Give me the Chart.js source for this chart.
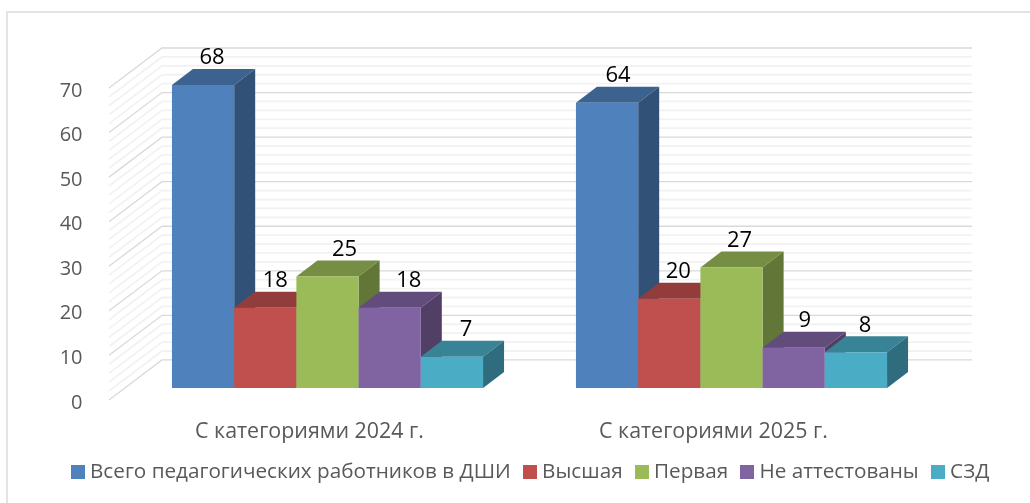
<!DOCTYPE html>
<html>
<head>
<meta charset="utf-8">
<script src="https://cdn.jsdelivr.net/npm/chart.js@4"></script>
<style>
  html, body { margin: 0; background: #fff; overflow: hidden; }
  #wrap { position: absolute; left: 6px; top: 11px; width: 1030px; height: 500px; border: 2px solid #e3e3e3; }
  canvas { position: absolute; left: 0; top: 0; }
</style>
</head>
<body>
<div id="wrap"></div>
<canvas id="chart" width="1030" height="503"></canvas>
<script>
const categories = ['С категориями 2024 г.', 'С категориями 2025 г.'];
const seriesNames = ['Всего педагогических работников в ДШИ', 'Высшая', 'Первая', 'Не аттестованы', 'СЗД'];
const total = [68, 64];
const highest = [18, 20];
const first = [25, 27];
const notCertified = [18, 9];
const szd = [7, 8];
const colors = ['#4f81bd', '#c0504d', '#9bbb59', '#8064a2', '#4bacc6'];

const FONT = '"Open Sans", sans-serif';

// labels were dragged by hand in the original, so they are not all centred
const labelShift = [[9, 11], [10, 9], [17, 8], [19, 11], [14, 9]];

const shade = (hex, k) => {
  const n = parseInt(hex.slice(1), 16);
  return `rgb(${Math.round((n >> 16) * k)}, ${Math.round(((n >> 8) & 255) * k)}, ${Math.round((n & 255) * k)})`;
};

const poly = (ctx, pts, fill) => {
  ctx.beginPath();
  pts.forEach((p, i) => (i ? ctx.lineTo(p[0], p[1]) : ctx.moveTo(p[0], p[1])));
  ctx.closePath();
  ctx.fillStyle = fill;
  ctx.fill();
};

// Legend square as an image: keeps the gap to the text narrow
const swatch = (color) => {
  const c = document.createElement('canvas');
  c.width = 14;
  c.height = 14;
  const g = c.getContext('2d');
  g.fillStyle = color;
  g.fillRect(0, 0, 14, 14);
  return c;
};

// Fake 3D: walls behind the bars, then top and side faces for every bar
const depth3d = {
  id: 'depth3d',
  beforeDatasetsDraw(chart) {
    const { ctx, scales: { y } } = chart;
    ctx.save();
    for (let v = 70; v >= 0; v -= 2) {
      const py = y.getPixelForValue(v);
      ctx.strokeStyle = v % 10 === 0 ? '#d9d9d9' : '#f2f2f2';
      ctx.lineWidth = v % 10 === 0 ? 1.3 : 1.8;
      ctx.beginPath();
      ctx.moveTo(109, py + 12);
      ctx.lineTo(162, py - 28);
      ctx.lineTo(972, py - 28);
      ctx.stroke();
    }
    ctx.restore();
  },
  beforeDatasetDraw() {
    return false; // bars get painted in order below
  },
  afterDatasetsDraw(chart) {
    const { ctx } = chart;
    const dx = 21;
    const dy = 16;
    for (let c = 0; c < categories.length; c++) {
      chart.data.datasets.forEach((ds, i) => {
        const bar = chart.getDatasetMeta(i).data[c];
        const l = bar.x - bar.width / 2;
        const r = bar.x + bar.width / 2;
        poly(ctx, [[l, bar.y], [l + dx, bar.y - dy], [r + dx, bar.y - dy], [r, bar.y]], shade(colors[i], 0.76));
        poly(ctx, [[r, bar.y], [r + dx, bar.y - dy], [r + dx, bar.base - dy], [r, bar.base]], shade(colors[i], 0.63));
        bar.draw(ctx);
      });
    }
    ctx.save();
    ctx.fillStyle = '#000';
    ctx.font = '22px ' + FONT;
    ctx.textAlign = 'center';
    ctx.textBaseline = 'middle';
    chart.data.datasets.forEach((ds, i) => {
      chart.getDatasetMeta(i).data.forEach((bar, c) => {
        ctx.fillText(ds.data[c], bar.x + labelShift[i][c], bar.y - dy - 11);
      });
    });
    ctx.restore();
  },
};

const series = [total, highest, first, notCertified, szd];

new Chart(document.getElementById('chart'), {
  type: 'bar',
  data: {
    labels: categories,
    datasets: series.map((data, i) => ({
      label: seriesNames[i],
      data,
      backgroundColor: colors[i],
      categoryPercentage: 0.77,
      barPercentage: 1,
    })),
  },
  options: {
    responsive: false,
    animation: false,
    layout: { padding: { left: 35, right: 0, top: 76, bottom: 11 } },
    scales: {
      y: {
        min: 0,
        max: 70,
        grid: { display: false },
        border: { display: false },
        ticks: { stepSize: 10, color: '#595959', padding: 35, labelOffset: 15, font: { family: FONT, size: 20 } },
        afterFit: (s) => { s.width = 90.5; },
      },
      // empty axis, only holds the space to the right of the plot
      spacer: {
        position: 'right',
        display: true,
        grid: { display: false },
        border: { display: false },
        ticks: { display: false },
        afterFit: (s) => { s.width = 96.5; },
      },
      x: {
        grid: { display: false },
        border: { display: false },
        ticks: { color: '#595959', padding: 23, labelOffset: -18, font: { family: FONT, size: 21.4 } },
        afterFit: (s) => { s.height = 56.4; },
      },
    },
    plugins: {
      legend: {
        position: 'bottom',
        labels: {
          color: '#595959',
          usePointStyle: true,
          pointStyleWidth: 4,
          padding: 17,
          font: { family: FONT, size: 20.7 },
          generateLabels: (chart) => Chart.defaults.plugins.legend.labels.generateLabels(chart)
            .map((item, i) => ({ ...item, pointStyle: swatch(colors[i]) })),
        },
      },
      tooltip: { enabled: false },
    },
  },
  plugins: [depth3d],
});
</script>
</body>
</html>
